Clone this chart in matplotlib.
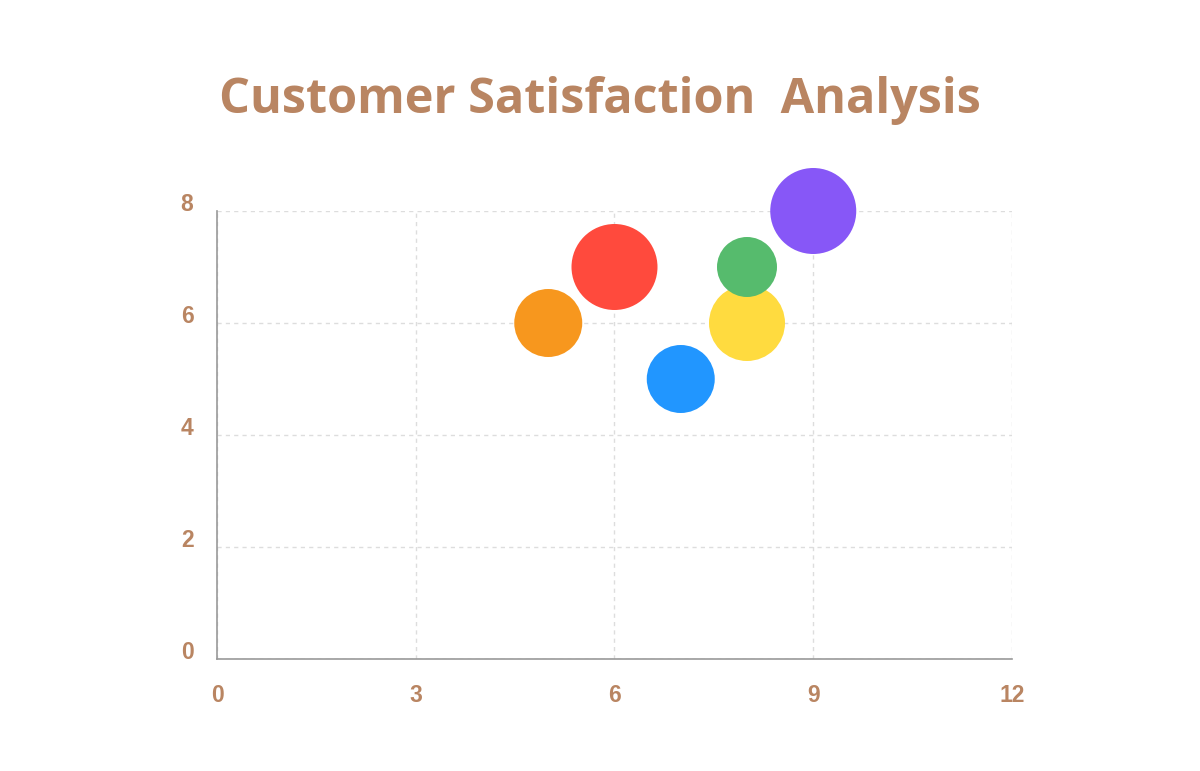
import matplotlib
matplotlib.use("Agg")
import matplotlib.pyplot as plt

# bubble data: satisfaction position and bubble radius (px)
x_vals = [5, 6, 7, 8, 8, 9]
y_vals = [6, 7, 5, 6, 7, 8]
radius_px = [34, 43, 34, 38, 30, 43]
colors = ["#F7971E", "#FF4A3D", "#2196FF", "#FFDB3F", "#56BB6D", "#8757F7"]

x_ticks = [0, 3, 6, 9, 12]
y_ticks = [0, 2, 4, 6, 8]

title = "Customer Satisfaction  Analysis"
label_color = "#B98562"

DPI = 100
fig = plt.figure(figsize=(12, 7.71), dpi=DPI)
ax = fig.add_axes([217 / 1200, 1 - 659 / 771, (1012 - 217) / 1200, (659 - 211) / 771])

# radius in px -> marker area in points^2
sizes = [(2 * r * 72 / DPI) ** 2 for r in radius_px]
ax.scatter(x_vals, y_vals, s=sizes, c=colors, linewidths=0, zorder=3, clip_on=False)

ax.set_xlim(0, 12)
ax.set_ylim(0, 8)
ax.set_xticks(x_ticks)
ax.set_yticks(y_ticks)
ax.grid(True, color="#DDDDDD", linestyle=(0, (3, 3)), linewidth=1)
ax.set_axisbelow(True)

for side in ("top", "right"):
    ax.spines[side].set_visible(False)
for side in ("left", "bottom"):
    ax.spines[side].set_color("#999999")
    ax.spines[side].set_linewidth(1.2)

ax.tick_params(length=0, labelsize=16.5, labelcolor=label_color)
ax.tick_params(axis="x", pad=18)
ax.tick_params(axis="y", pad=17)
for lab in ax.get_xticklabels() + ax.get_yticklabels():
    lab.set_fontweight("bold")
    lab.set_fontfamily("Liberation Sans")
for lab in ax.get_yticklabels():
    lab.set_verticalalignment("baseline")

fig.text(0.5, 1 - 113 / 771, title, ha="center", va="baseline",
         fontsize=35, fontweight="bold", color=label_color, family="Open Sans")

fig.savefig("out.png", dpi=DPI)
